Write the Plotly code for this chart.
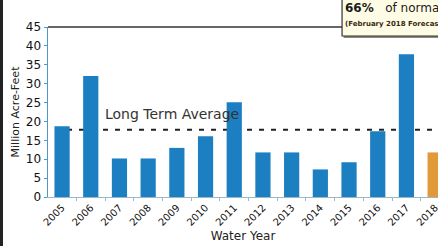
import plotly.graph_objects as go

years = ["2005", "2006", "2007", "2008", "2009", "2010", "2011", "2012",
         "2013", "2014", "2015", "2016", "2017", "2018"]
volumes = [18.7, 32.0, 10.2, 10.2, 13.0, 16.1, 25.1, 11.8, 11.8, 7.3, 9.2, 17.4, 37.8, 11.8]
bar_colors = ["#1b7fc1"] * 13 + ["#e09a3a"]
long_term_avg = 17.8
y_ticks = [0, 5, 10, 15, 20, 25, 30, 35, 40, 45]

FONT = "DejaVu Sans"

fig = go.Figure()
fig.add_trace(go.Bar(x=years, y=volumes, marker=dict(color=bar_colors, line=dict(width=0)),
                     width=0.53, showlegend=False, hoverinfo="skip"))

# long term average dashed line
fig.add_shape(type="line", xref="paper", yref="y", x0=0.018, x1=1.0, y0=long_term_avg, y1=long_term_avg,
              line=dict(color="#222222", width=2, dash="5px,7px"), layer="below")

fig.add_annotation(text="Long Term Average", xref="paper", yref="y", x=0.141, y=21.9,
                   xanchor="left", yanchor="middle", showarrow=False,
                   font=dict(family=FONT, size=14, color="#333333"))

# top border line
fig.add_shape(type="line", xref="paper", yref="paper", x0=0, x1=0.755, y0=1.0, y1=1.0,
              line=dict(color="#333333", width=1.5))

# callout box
fig.add_shape(type="rect", xref="paper", yref="paper", x0=0.758, x1=1.02, y0=0.935, y1=1.2,
              fillcolor="#8a8a80", line=dict(width=0))
fig.add_shape(type="rect", xref="paper", yref="paper", x0=0.754, x1=1.02, y0=0.947, y1=1.2,
              fillcolor="#fffce6", line=dict(color="#333333", width=1.2))
fig.add_annotation(text="<b>66%</b>   of normal", xref="paper", yref="paper", x=0.757, y=1.112,
                   xanchor="left", yanchor="middle", showarrow=False,
                   font=dict(family=FONT, size=12, color="#1a1a1a"))
fig.add_annotation(text="<b>(February 2018 Forecast)</b>", xref="paper", yref="paper", x=0.757, y=1.015,
                   xanchor="left", yanchor="middle", showarrow=False,
                   font=dict(family=FONT, size=7, color="#3a2a10"))

fig.update_layout(
    width=438, height=246,
    margin=dict(l=48, r=0, t=27, b=49, autoexpand=False),
    paper_bgcolor="white", plot_bgcolor="white",
    font=dict(family=FONT, color="#111111"),
    hovermode=False,
    xaxis=dict(
        type="category", range=[-0.49, 13.1], automargin=False,
        tickangle=-45, tickfont=dict(size=10, color="#111111"),
        showgrid=False, zeroline=False,
        showline=True, linecolor="#9ab8cc", linewidth=1,
        ticks="outside", tickson="boundaries", ticklen=3, tickcolor="#9ab8cc",
        title=dict(text="Water Year", font=dict(size=12, color="#222222"), standoff=4),
    ),
    yaxis=dict(
        range=[0, 45], tickvals=y_ticks, automargin=False,
        tickfont=dict(size=12, color="#111111"),
        showgrid=False, zeroline=False,
        showline=True, linecolor="#4d98c8", linewidth=1.5,
        ticks="outside", ticklen=3, tickcolor="#4d98c8",
        title=dict(text="Million Acre-Feet", font=dict(size=11, color="#222222"), standoff=4),
    ),
)

post = (
    "document.body.style.margin='0';document.body.style.overflow='hidden';"
    "var edge=document.createElement('div');"
    "edge.style.cssText='position:absolute;left:0;top:0;width:3px;height:246px;background:#222;z-index:10';"
    "document.body.appendChild(edge);"
)
fig.write_html("out.html", config={"displayModeBar": False, "staticPlot": True}, post_script=post)
